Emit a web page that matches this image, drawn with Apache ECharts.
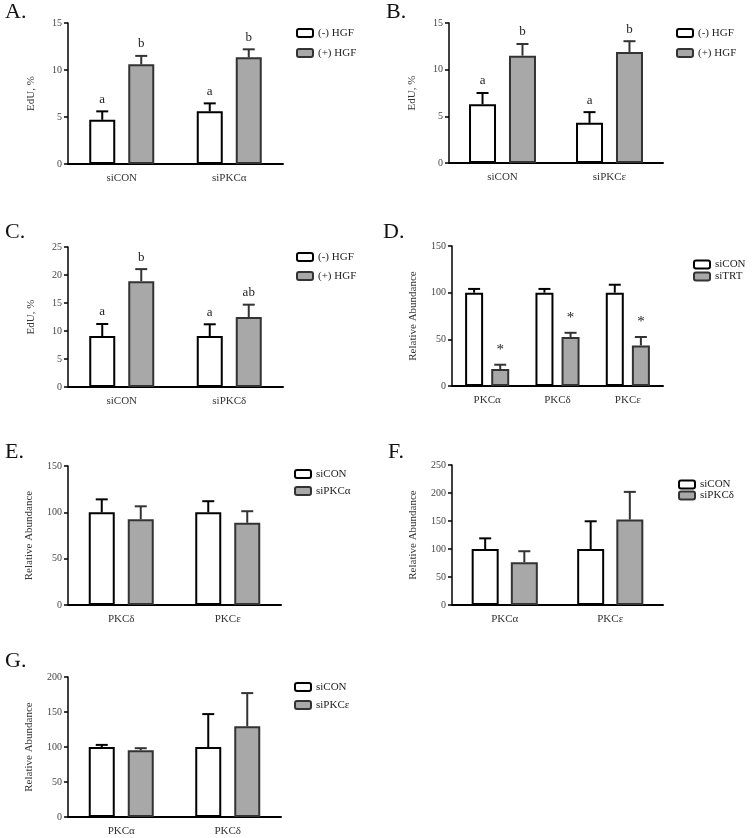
<!DOCTYPE html>
<html>
<head>
<meta charset="utf-8">
<script src="https://cdn.jsdelivr.net/npm/echarts@6/dist/echarts.min.js"></script>
<style>
html,body{margin:0;padding:0;background:#fff;}
#c{width:752px;height:838px;}
</style>
</head>
<body>
<div id="c"></div>
<script>
// ---------- DATA ----------
const catsA = ['siCON', 'siPKCα'];
const negHgfA = [4.7, 5.6];
const negHgfSemA = [0.9, 0.85];
const posHgfA = [10.6, 11.35];
const posHgfSemA = [0.9, 0.85];
const negLetA = ['a', 'a'];
const posLetA = ['b', 'b'];

const catsB = ['siCON', 'siPKCε'];
const negHgfB = [6.3, 4.3];
const negHgfSemB = [1.2, 1.15];
const posHgfB = [11.5, 11.9];
const posHgfSemB = [1.25, 1.15];
const negLetB = ['a', 'a'];
const posLetB = ['b', 'b'];

const catsC = ['siCON', 'siPKCδ'];
const negHgfC = [9.1, 9.1];
const negHgfSemC = [2.15, 2.1];
const posHgfC = [18.9, 12.5];
const posHgfSemC = [2.15, 2.2];
const negLetC = ['a', 'a'];
const posLetC = ['b', 'ab'];

const catsD = ['PKCα', 'PKCδ', 'PKCε'];
const siconD = [100, 100, 100];
const siconSemD = [4, 4, 8.5];
const sitrtD = [18.2, 52.5, 43.5];
const sitrtSemD = [4.6, 4.5, 9];
const sitrtLetD = ['*', '*', '*'];

const catsE = ['PKCδ', 'PKCε'];
const siconE = [100, 100];
const siconSemE = [14, 12];
const sipkcaE = [92.5, 88.7];
const sipkcaSemE = [14, 12.5];

const catsF = ['PKCα', 'PKCε'];
const siconF = [100, 100];
const siconSemF = [19, 49.5];
const sipkcdF = [76.5, 152.5];
const sipkcdSemF = [19.5, 49.5];

const catsG = ['PKCα', 'PKCδ'];
const siconG = [100, 100];
const siconSemG = [3, 47];
const sipkceG = [95.5, 129.5];
const sipkceSemG = [2.8, 47.5];

// ---------- STYLE / LAYOUT ----------
const FONT = '"Liberation Serif", "Times New Roman", serif';
const WHITE = {color: '#ffffff', borderColor: '#000000', borderWidth: 2};
const GRAY = {color: '#a8a8a8', borderColor: '#333333', borderWidth: 2};

const panels = [
  {id:'A', cats:catsA, s:[['(-) HGF', negHgfA, negHgfSemA, negLetA], ['(+) HGF', posHgfA, posHgfSemA, posLetA]],
   grid:{left:68, top:23, width:215, height:141}, max:15, interval:5, yname:'EdU, %', nameGap:31,
   bw:26, gap:0.5, title:{left:5, top:1}, legend:{left:296, top:26, lh:14, gap:6}},
  {id:'B', cats:catsB, s:[['(-) HGF', negHgfB, negHgfSemB, negLetB], ['(+) HGF', posHgfB, posHgfSemB, posLetB]],
   grid:{left:449, top:23, width:214, height:140}, max:15, interval:5, yname:'EdU, %', nameGap:31,
   bw:27, gap:0.48, title:{left:386, top:1}, legend:{left:676, top:26, lh:14, gap:6}},
  {id:'C', cats:catsC, s:[['(-) HGF', negHgfC, negHgfSemC, negLetC], ['(+) HGF', posHgfC, posHgfSemC, posLetC]],
   grid:{left:68, top:247, width:215, height:140}, max:25, interval:5, yname:'EdU, %', nameGap:31,
   bw:26, gap:0.5, title:{left:5, top:221}, legend:{left:296, top:250, lh:14, gap:5}},
  {id:'D', cats:catsD, s:[['siCON', siconD, siconSemD, null], ['siTRT', sitrtD, sitrtSemD, sitrtLetD]],
   grid:{left:452, top:246, width:211, height:140}, max:150, interval:50, yname:'Relative Abundance', nameGap:33,
   bw:18, gap:0.45, title:{left:383, top:221}, legend:{left:693, top:259, lh:10, gap:1}},
  {id:'E', cats:catsE, s:[['siCON', siconE, siconSemE, null], ['siPKCα', sipkcaE, sipkcaSemE, null]],
   grid:{left:68, top:466, width:213, height:139}, max:150, interval:50, yname:'Relative Abundance', nameGap:33,
   bw:26, gap:0.5, title:{left:5, top:441}, legend:{left:294, top:468, lh:12, gap:5}},
  {id:'F', cats:catsF, s:[['siCON', siconF, siconSemF, null], ['siPKCδ', sipkcdF, sipkcdSemF, null]],
   grid:{left:452, top:465, width:211, height:140}, max:250, interval:50, yname:'Relative Abundance', nameGap:33,
   bw:27, gap:0.45, title:{left:388, top:441}, legend:{left:678, top:479, lh:10, gap:0}},
  {id:'G', cats:catsG, s:[['siCON', siconG, siconSemG, null], ['siPKCε', sipkceG, sipkceSemG, null]],
   grid:{left:68, top:677, width:213, height:140}, max:200, interval:50, yname:'Relative Abundance', nameGap:33,
   bw:26, gap:0.5, title:{left:5, top:650}, legend:{left:294, top:681, lh:12, gap:6}}
];

function errRender(offset, color, letters) {
  return function (params, api) {
    const cat = api.value(0), mean = api.value(1), sem = api.value(2);
    const p0 = api.coord([cat, mean]);
    const p1 = api.coord([cat, mean + sem]);
    const x = p0[0] + offset;
    const cap = 6;
    const children = [
      {type:'line', shape:{x1:x, y1:p0[1], x2:x, y2:p1[1]}, style:{stroke:color, lineWidth:2}},
      {type:'line', shape:{x1:x - cap, y1:p1[1], x2:x + cap, y2:p1[1]}, style:{stroke:color, lineWidth:2}}
    ];
    if (letters && letters[params.dataIndex]) {
      const t = letters[params.dataIndex];
      const star = t === '*';
      children.push({type:'text', style:{text:t, x:x, y:p1[1] - (star ? 15 : 12), align:'center', verticalAlign:'middle',
        font: (star ? '15px ' : '13px ') + FONT, fill:'#222'}});
    }
    return {type:'group', children:children};
  };
}

const option = {
  animation:false,
  backgroundColor:'#ffffff',
  title:[], legend:[], grid:[], xAxis:[], yAxis:[], series:[]
};

panels.forEach(function (p, i) {
  option.title.push({text:p.id + '.', left:p.title.left, top:p.title.top, padding:0,
    textStyle:{fontFamily:FONT, fontSize:22, fontWeight:'normal', color:'#111'}});
  option.grid.push(Object.assign({containLabel:false}, p.grid));
  option.xAxis.push({type:'category', gridIndex:i, data:p.cats,
    axisLine:{lineStyle:{color:'#000', width:2}}, axisTick:{show:false},
    axisLabel:{fontFamily:FONT, fontSize:11, color:'#333', margin:9}});
  option.yAxis.push({type:'value', gridIndex:i, min:0, max:p.max, interval:p.interval,
    name:p.yname, nameLocation:'middle', nameGap:p.nameGap, nameRotate:90,
    nameTextStyle:{fontFamily:FONT, fontSize:11, color:'#333'},
    axisLine:{show:true, lineStyle:{color:'#000', width:1.5}},
    axisTick:{show:true, length:4, lineStyle:{color:'#000', width:1.5}},
    splitLine:{show:false},
    axisLabel:{fontFamily:FONT, fontSize:10, color:'#444', margin:6}});
  const off = p.bw * (1 + p.gap) / 2;
  p.s.forEach(function (s, k) {
    const sty = k === 0 ? WHITE : GRAY;
    option.series.push({type:'bar', name:s[0], xAxisIndex:i, yAxisIndex:i, data:s[1],
      barWidth:p.bw, barGap:(p.gap * 100) + '%', itemStyle:sty, silent:true, z:2});
  });
  p.s.forEach(function (s, k) {
    const sty = k === 0 ? WHITE : GRAY;
    const data = s[1].map(function (v, j) { return [j, v, s[2][j]]; });
    option.series.push({type:'custom', name:s[0] + ' err', xAxisIndex:i, yAxisIndex:i, data:data,
      renderItem:errRender(k === 0 ? -off : off, sty.borderColor, s[3]), silent:true, z:3,
      encode:{x:0, y:[1, 2]}});
  });
  option.legend.push({orient:'vertical', left:p.legend.left, top:p.legend.top, padding:0,
    itemGap:p.legend.gap, itemWidth:16, itemHeight:8, icon:'roundRect', selectedMode:false,
    data:[p.s[0][0], p.s[1][0]],
    textStyle:{fontFamily:FONT, fontSize:11, color:'#222', lineHeight:p.legend.lh}});
});

const chart = echarts.init(document.getElementById('c'), null, {renderer:'canvas'});
chart.setOption(option);
</script>
</body>
</html>
